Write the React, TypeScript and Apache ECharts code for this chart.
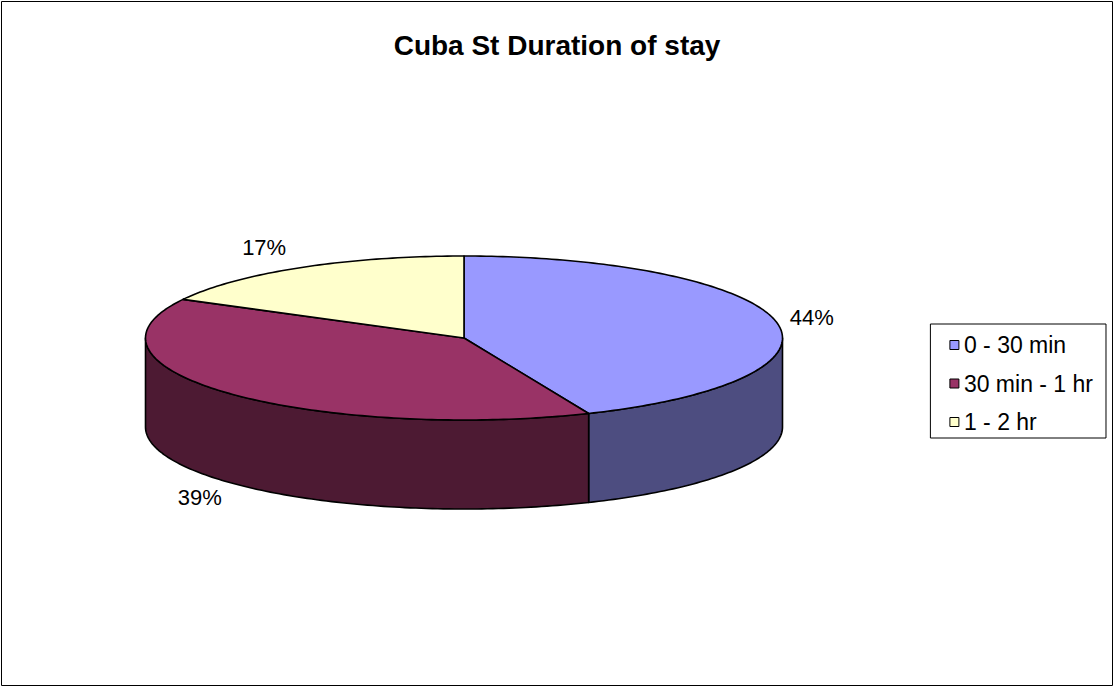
import React, { useEffect, useRef } from "react";
import * as echarts from "echarts";

const TITLE = "Cuba St Duration of stay";
const categories = ["0 - 30 min", "30 min - 1 hr", "1 - 2 hr"];
const shares = [43.6, 39.2, 17.2];
const topColors = ["#9999FF", "#993366", "#FFFFCC"];
const sideColors = ["#4D4D80", "#4D1A33", "#80806A"];

// geometry (style constants)
const CX = 464;
const CY = 338;
const RX = 318.5;
const RY = 82;
const DEPTH = 89;
const FONT = "'Liberation Sans', Arial, sans-serif";

const total = shares.reduce((a, b) => a + b, 0);
const cumBefore = shares.map((_, i) => shares.slice(0, i).reduce((a, b) => a + b, 0));

function pt(theta: number, dy: number): number[] {
  return [CX + RX * Math.sin(theta), CY - RY * Math.cos(theta) + dy];
}

function arc(a0: number, a1: number, dy: number): number[][] {
  const pts: number[][] = [];
  const n = Math.max(2, Math.ceil(((a1 - a0) * 180) / Math.PI));
  for (let k = 0; k <= n; k++) {
    pts.push(pt(a0 + ((a1 - a0) * k) / n, dy));
  }
  return pts;
}

export default function App() {
  const ref = useRef<HTMLDivElement>(null);
  useEffect(() => {
    document.body.style.margin = "0";
    if (!ref.current) return;
    const chart = echarts.init(ref.current, undefined, { renderer: "svg" });

    const series = categories.map((name, i) => ({
      type: "custom",
      name,
      coordinateSystem: "none",
      itemStyle: { color: topColors[i], borderColor: "#000", borderWidth: 1 },
      data: [[shares[i], cumBefore[i]]],
      renderItem: (params: any, api: any) => {
        const v = api.value(0) as number;
        const before = api.value(1) as number;
        const a0 = (before / total) * Math.PI * 2;
        const a1 = ((before + v) / total) * Math.PI * 2;
        const children: any[] = [];
        // visible front wall: angles between PI/2 and 3PI/2
        const w0 = Math.max(a0, Math.PI / 2);
        const w1 = Math.min(a1, (Math.PI * 3) / 2);
        if (w1 > w0) {
          const topArc = arc(w0, w1, 0);
          const botArc = arc(w0, w1, DEPTH).reverse();
          children.push({
            type: "polygon",
            shape: { points: topArc.concat(botArc) },
            style: { fill: sideColors[i], stroke: "#000", lineWidth: 1.6, lineJoin: "round" },
          });
        }
        const topPts = [[CX, CY]].concat(arc(a0, a1, 0));
        children.push({
          type: "polygon",
          shape: { points: topPts },
          style: { fill: topColors[i], stroke: "#000", lineWidth: 1.6, lineJoin: "round" },
        });
        const mid = (a0 + a1) / 2;
        const s = Math.sin(mid);
        const c = Math.cos(mid);
        const lx = CX + (RX + 10 + (c > 0 ? 20 * c : 0)) * s;
        const ly = CY - 105 * c + (c < 0 ? DEPTH : 0);
        children.push({
          type: "text",
          style: {
            text: Math.round((v / total) * 100) + "%",
            x: lx,
            y: ly,
            align: s >= 0 ? "left" : "right",
            verticalAlign: "middle",
            fontSize: 22,
            fontFamily: FONT,
            fill: "#000",
          },
        });
        return { type: "group", children };
      },
    }));

    chart.setOption({
      animation: false,
      backgroundColor: "#fff",
      title: {
        text: TITLE,
        left: "center",
        top: 26,
        textStyle: { fontSize: 28, fontWeight: "bold", fontFamily: FONT, color: "#000" },
      },
      legend: {
        orient: "vertical",
        right: 8,
        top: 324,
        data: categories,
        icon: "rect",
        itemWidth: 9,
        itemHeight: 9,
        itemGap: 15.5,
        padding: [9.5, 13, 4.5, 19],
        borderColor: "#000",
        borderWidth: 1,
        backgroundColor: "#fff",
        itemStyle: { borderColor: "#000", borderWidth: 1 },
        textStyle: { fontSize: 23, lineHeight: 23, fontFamily: FONT, color: "#000" },
      },
      graphic: [
        {
          type: "rect",
          shape: { x: 1.5, y: 1.5, width: 1111, height: 684 },
          style: { fill: "none", stroke: "#000", lineWidth: 1 },
          silent: true,
          z: 100,
        },
      ],
      series,
    });
    return () => chart.dispose();
  }, []);
  return <div ref={ref} style={{ width: 1114, height: 688 }} />;
}
